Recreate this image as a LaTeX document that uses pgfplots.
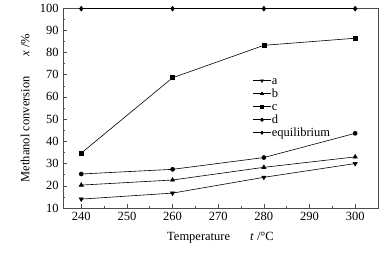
\documentclass[border=0pt]{standalone}
\usepackage{fontspec}
\setmainfont{Liberation Serif}
\usepackage{pgfplots}
\pgfplotsset{compat=1.18}
\begin{document}
\fontsize{12.5}{14}\selectfont
\begin{tikzpicture}[x=1pt,y=1pt]
\useasboundingbox (-63,-45) rectangle (329,208);
\begin{axis}[
  at={(0,0)}, anchor=south west,
  scale only axis, width=315pt, height=200pt,
  xmin=236, xmax=305, ymin=10, ymax=100,
  xtick={240,250,...,300}, ytick={10,20,...,100},
  minor x tick num=1, minor y tick num=1,
  tick align=inside, xtick pos=bottom, ytick pos=left,
  major tick length=4pt, minor tick length=2pt,
  /pgf/number format/assume math mode=true,
  /pgf/number format/1000 sep={},
  tick label style={font=\fontsize{12.5}{14}\selectfont},
  axis line style={line width=0.5pt, black!70},
  every tick/.style={black!70, line width=0.5pt},
  xlabel={Temperature\hspace{1.6em}\textit{t} /°C},
  ylabel={Methanol conversion\hspace{1.6em}\textit{x} /\%},
  xlabel style={at={(axis description cs:0.5,0)}, yshift=-30pt, anchor=center},
  ylabel style={at={(axis description cs:0,0.5)}, anchor=center, yshift=38pt},
  legend style={draw=none, fill=none, inner sep=0pt, at={(axis description cs:0.603,0.665)}, anchor=north west, font=\fontsize{12.5}{14}\selectfont, row sep=2pt,
    nodes={inner sep=1pt, text height=8pt, text depth=1pt}},
  legend cell align=left,
  legend image post style={mark size=1.7pt, line width=0.6pt},
  every axis plot/.append style={black, line width=0.6pt, mark size=2.4pt},
]
\addplot[mark=triangle*, mark options={rotate=180}] coordinates {(240,14) (260,16.7) (280,23.8) (300,30)};
\addlegendentry{a}
\addplot[mark=triangle*] coordinates {(240,20.3) (260,22.6) (280,28.3) (300,33)};
\addlegendentry{b}
\addplot[mark=square*, mark size=2pt] coordinates {(240,34.7) (260,68.6) (280,83.2) (300,86.4)};
\addlegendentry{c}
\addplot[mark=*, mark size=2pt] coordinates {(240,25.3) (260,27.4) (280,32.7) (300,43.6)};
\addlegendentry{d}
\addplot[mark=diamond*, mark size=2.4pt] coordinates {(240,99.7) (260,99.7) (280,99.7) (300,99.7)};
\addlegendentry{equilibrium}
\end{axis}
\end{tikzpicture}
\end{document}
